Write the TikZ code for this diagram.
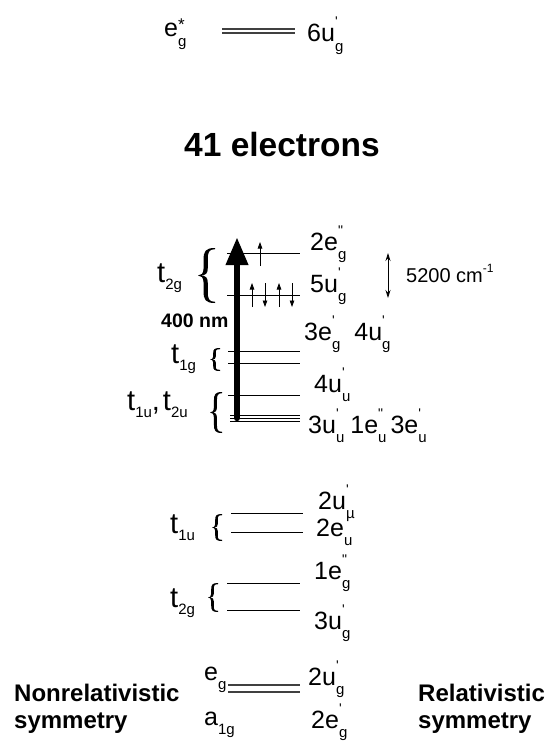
\documentclass[tikz,border=0pt]{standalone}
\usepackage{fontspec}
\setmainfont{Liberation Sans}[Ligatures=TeXOff]
\usetikzlibrary{arrows.meta}
\newcommand\fs[1]{\fontsize{#1}{#1}\selectfont}
% base, subscript, superscript
\newcommand\orb[3]{#1\rlap{\raisebox{0.6em}{\fs{14}#3}}\raisebox{-0.38em}{\fs{15}#2}}
% t label with subscript
\newcommand\tl[1]{t\raisebox{-0.27em}{\fs{15}#1}}
% curly brace: right x, top y, bottom y, width, stroke
\newcommand\curly[5]{%
 \pgfmathsetmacro\bXr{#1}\pgfmathsetmacro\bYt{#2}\pgfmathsetmacro\bYb{#3}%
 \pgfmathsetmacro\bYm{(#2+#3)/2}\pgfmathsetmacro\bH{#3-#2}%
 \pgfmathsetmacro\bXl{#1-#4}%
 \pgfmathsetmacro\bXa{#1-0.55*#4-0.5*#5}\pgfmathsetmacro\bXb{#1-0.55*#4+0.5*#5}%
 \pgfmathsetmacro\bYa{#2+0.22*\bH}\pgfmathsetmacro\bYc{\bYm-0.13*\bH}%
 \pgfmathsetmacro\bYd{\bYm+0.13*\bH}\pgfmathsetmacro\bYe{#3-0.22*\bH}%
 \fill (\bXr,\bYt) .. controls (\bXa+0.1*#4,\bYt) and (\bXa,\bYt+0.06*\bH) .. (\bXa,\bYa) -- (\bXa,\bYc)
   .. controls (\bXa,\bYm-0.03*\bH) and (\bXa-0.15*#4,\bYm) .. (\bXl,\bYm)
   .. controls (\bXa-0.15*#4,\bYm) and (\bXa,\bYm+0.03*\bH) .. (\bXa,\bYd) -- (\bXa,\bYe)
   .. controls (\bXa,\bYb-0.06*\bH) and (\bXa+0.1*#4,\bYb) .. (\bXr,\bYb) -- (\bXr,\bYb-1.2)
   .. controls (\bXb+0.05*#4,\bYb-1.2) and (\bXb,\bYb-0.08*\bH) .. (\bXb,\bYe) -- (\bXb,\bYd)
   .. controls (\bXb,\bYm+0.04*\bH) and (\bXb-0.1*#4,\bYm) .. (\bXl+2,\bYm)
   .. controls (\bXb-0.1*#4,\bYm) and (\bXb,\bYm-0.04*\bH) .. (\bXb,\bYc) -- (\bXb,\bYa)
   .. controls (\bXb,\bYt+0.08*\bH) and (\bXb+0.05*#4,\bYt+1.2) .. (\bXr,\bYt+1.2) -- cycle;}
\begin{document}
\begin{tikzpicture}[x=1pt,y=-1pt,
  lab/.style={inner sep=0pt,anchor=base west,font=\fs{25}},
  tlab/.style={inner sep=0pt,anchor=base west,font=\fs{29}},
  bigl/.style={inner sep=0pt,anchor=base west,font=\fs{24}\bfseries},
  lev/.style={line width=1pt},
  dlev/.style={line width=1.3pt,draw=black!75},
  el/.style={line width=0.8pt,-{Triangle[width=4.5pt,length=6.5pt]}}]
\useasboundingbox (0,0) rectangle (546,741);
% top
\node[lab] (eg) at (164,37) {e\rlap{\raisebox{0.26em}{\fs{17}*}}\raisebox{-0.38em}{\fs{15}g}};
\coordinate (t1) at (222,33); \coordinate (t2) at (295,33);
\draw[dlev] (t1) -- (t2);
\draw[dlev] ([yshift=4]t1) -- ([yshift=4]t2);
\node[lab] (u6) at (307,42) {\orb{6u}{g}{'}};
% title
\node[inner sep=0pt,anchor=base,font=\fs{33.5}\bfseries] (title) at (282,157) {41 electrons};
% upper levels
\foreach \n/\y/\xa in {a/253/227, b/295/227, c/351/228, d/363/228, e/395/228, f/415/230, g/418/230, h/421/230}
  \draw[lev] (\xa,\y) coordinate (\n1) -- (300,\y) coordinate (\n2);
% big arrow
\coordinate (A0) at (237,418); \coordinate (A1) at (237,237);
\draw[line width=6.5pt,line cap=round,-{Triangle[width=21pt,length=28pt]}] (A0) -- (A1);
% electrons
\draw[el] (260,266) -- (260,242);
\draw[el] (252,307) -- (252,283);
\draw[el] (265,283) -- (265,307);
\draw[el] (279,307) -- (279,283);
\draw[el] (292,283) -- (292,307);
% labels right
\node[lab] (l2eg) at (310,250) {\orb{2e}{g}{"}};
\node[lab] (l5ug) at (310,292) {\orb{5u}{g}{'}};
\node[lab] (l3eg) at (304,340) {\orb{3e}{g}{'}\hspace{14pt}\orb{4u}{g}{'}};
\node[lab] (l4uu) at (314,392) {\orb{4u}{u}{'}};
\node[lab] (l3uu) at (308,433) {\orb{3u}{u}{'}\hspace{6pt}\orb{1e}{u}{"}\hspace{4pt}\orb{3e}{u}{'}};
% 5200
\coordinate (s1) at (388,253); \coordinate (s2) at (388,298);
\draw[line width=0.8pt,{Stealth[width=5pt,length=8pt]}-{Stealth[width=5pt,length=8pt]}] (s1) -- (s2);
\node[inner sep=0pt,anchor=base west,font=\fs{20}] (cm) at (406,282) {5200 cm\raisebox{0.5em}{\fs{12}-1}};
% left labels upper
\node[tlab] (t2g) at (157,282) {\tl{2g}};
\curly{215}{248}{303}{17}{4.2}
\node[bigl,font=\fs{19.5}\bfseries] (nm) at (161,327) {400 nm};
\node[tlab] (t1g) at (171,363) {\tl{1g}};
\curly{220}{348}{371}{10}{2.6}
\node[tlab] (t1u) at (127,410) {\tl{1u},\hspace{3pt}\tl{2u}};
\curly{222}{392}{433}{12}{3}
% lower levels
\foreach \n/\y/\xa/\xb in {p/513/231/303, q/532/231/303, r/583/227/300, s/610/227/300}
  \draw[lev] (\xa,\y) coordinate (\n1) -- (\xb,\y) coordinate (\n2);
\node[lab] (l2um) at (318,509) {\orb{2u}{\textmu}{'}};
\node[lab] (l2eu) at (316,536) {\orb{2e}{u}{}};
\node[lab] (l1eg) at (314,579) {\orb{1e}{g}{"}};
\node[lab] (l3ug) at (314,629) {\orb{3u}{g}{'}};
\node[tlab] (t1u2) at (170,533) {\tl{1u}};
\curly{222}{514}{541}{10}{2.6}
\node[tlab] (t2g2) at (170,607) {\tl{2g}};
\curly{218}{583}{612}{10}{2.6}
% bottom
\coordinate (z1) at (228,692); \coordinate (z2) at (300,692);
\draw[dlev] (z1) -- (z2);
\draw[dlev] ([yshift=7]z1) -- ([yshift=7]z2);
\node[lab] (egb) at (204,680) {\orb{e}{g}{}};
\node[lab] (a1g) at (204,725) {\orb{a}{1g}{}};
\node[lab] (l2ug) at (308,685) {\orb{2u}{g}{'}};
\node[lab] (l2egb) at (311,728) {\orb{2e}{g}{'}};
\node[bigl] (nr) at (14,701) {Nonrelativistic};
\node[bigl] (nr2) at (14,728) {symmetry};
\node[bigl] (r) at (418,701) {Relativistic};
\node[bigl] (r2) at (418,728) {symmetry};
\end{tikzpicture}
\end{document}
